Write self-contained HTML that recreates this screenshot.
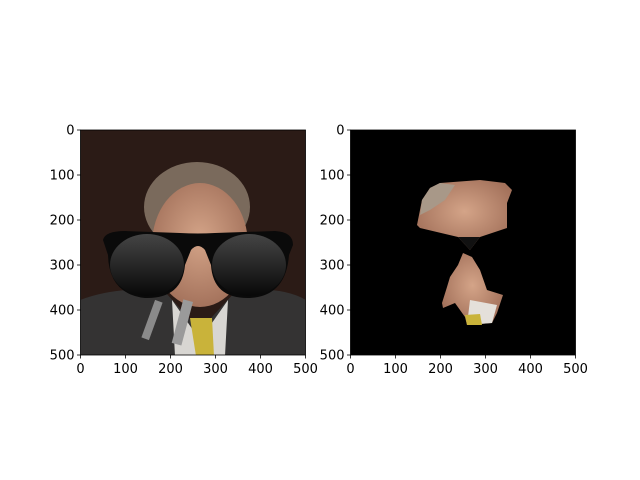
<!DOCTYPE html>
<html><head><meta charset="utf-8"><style>
html,body{margin:0;padding:0;background:#fff;}
svg{display:block;font-family:"DejaVu Sans","Liberation Sans",sans-serif;}
</style></head><body>
<svg id="fig" width="640" height="480" viewBox="0 0 640 480" xmlns="http://www.w3.org/2000/svg">
<defs>
<clipPath id="cl"><rect x="80.5" y="130" width="225" height="225"/></clipPath>
<clipPath id="cr"><rect x="350.5" y="130" width="225" height="225"/></clipPath>
<linearGradient id="lens" x1="0" y1="0" x2="0" y2="1"><stop offset="0" stop-color="#454545"/><stop offset="1" stop-color="#080808"/></linearGradient>
<radialGradient id="skin" cx="0.5" cy="0.45" r="0.6"><stop offset="0" stop-color="#d4a488"/><stop offset="1" stop-color="#a06e58"/></radialGradient>
</defs>
<g id="left-image" clip-path="url(#cl)">
<rect x="80.5" y="130" width="225" height="225" fill="#2b1b16"/>
<ellipse cx="197" cy="207" rx="53" ry="45" fill="#7a6a5c"/>
<ellipse cx="200" cy="245" rx="48" ry="62" fill="url(#skin)"/>
<path d="M80 300 Q120 285 165 292 L200 330 L235 292 Q280 285 306 300 L306 356 L80 356Z" fill="#343333"/>
<path d="M172 300 L200 340 L228 300 L225 356 L175 356Z" fill="#d8d6d2"/>
<path d="M190 318 L212 318 L214 356 L196 356Z" fill="#c9b33a"/>
<rect x="148" y="300" width="8" height="40" fill="#8a8a8a" transform="rotate(20 152 320)"/>
<rect x="178" y="300" width="10" height="45" fill="#9a9a9a" transform="rotate(15 183 320)"/>
<path d="M103 240 Q105 231 125 231 L180 233 Q198 234 215 233 L275 231 Q293 232 293 245 L289 255 Q286 296 250 298 Q213 299 211 265 L205 250 Q198 242 191 250 L185 265 Q182 299 145 298 Q109 294 108 255Z" fill="#0a0a0a"/>
<ellipse cx="147" cy="265" rx="37" ry="31" fill="url(#lens)"/>
<ellipse cx="249" cy="265" rx="37" ry="31" fill="url(#lens)"/>
</g>
<rect x="80.5" y="130" width="225" height="225" fill="none" stroke="#000" stroke-width="0.8"/>
<g id="right-image" clip-path="url(#cr)">
<rect x="350.5" y="130" width="225" height="225" fill="#000"/>
<path d="M417 225 L422 200 L430 188 L440 183 L480 180 L505 183 L512 190 L507 203 L507 228 L480 237 L470 250 L458 237 L420 228Z" fill="url(#skin)"/>
<path d="M422 200 L430 188 L440 183 L455 185 L445 200 L430 210 L420 215Z" fill="#a89888"/>
<path d="M458 237 L480 237 L470 250Z" fill="#111"/>
<path d="M463 253 L472 257 L480 270 L487 290 L503 295 L497 313 L492 323 L467 325 L465 317 L455 303 L443 308 L442 303 L447 287 L450 277 L458 265Z" fill="url(#skin)"/>
<path d="M470 300 L497 305 L492 323 L467 325Z" fill="#e4e0da"/>
<path d="M465 315 L480 314 L482 325 L467 325Z" fill="#c9b33a"/>
</g>
<rect x="350.5" y="130" width="225" height="225" fill="none" stroke="#000" stroke-width="0.8"/>
<g id="ticks"></g>
</svg>
<script>
const xTicks=[0,100,200,300,400,500];
const yTicks=[0,100,200,300,400,500];
const axesLeft=[80.5,350.5];
const top0=130, size=225, extent=500;
const g=document.getElementById('ticks');
const NS='http://www.w3.org/2000/svg';
function sx(l,v){return l+v/extent*size;}
function sy(v){return top0+v/extent*size;}
axesLeft.forEach((l,i)=>{
  xTicks.forEach(v=>{
    const ln=document.createElementNS(NS,'line');
    
    
    ln.setAttribute('x1',sx(l,v));ln.setAttribute('x2',sx(l,v));
    ln.setAttribute('y1',top0+size);ln.setAttribute('y2',top0+size+3.5);
    ln.setAttribute('stroke','#000');ln.setAttribute('stroke-width','0.8');g.appendChild(ln);
    const t=document.createElementNS(NS,'text');
    
    
    t.setAttribute('x',sx(l,v));t.setAttribute('y',top0+size+18);
    t.setAttribute('text-anchor','middle');t.setAttribute('font-size','13');
    t.textContent=v;g.appendChild(t);
  });
  yTicks.forEach(v=>{
    const ln=document.createElementNS(NS,'line');
    
    
    ln.setAttribute('x1',l-3.5);ln.setAttribute('x2',l);
    ln.setAttribute('y1',sy(v));ln.setAttribute('y2',sy(v));
    ln.setAttribute('stroke','#000');ln.setAttribute('stroke-width','0.8');g.appendChild(ln);
    const t=document.createElementNS(NS,'text');
    
    
    t.setAttribute('x',l-6);t.setAttribute('y',sy(v)+4.5);
    t.setAttribute('text-anchor','end');t.setAttribute('font-size','13');
    t.textContent=v;g.appendChild(t);
  });
});
</script>
</body></html>
